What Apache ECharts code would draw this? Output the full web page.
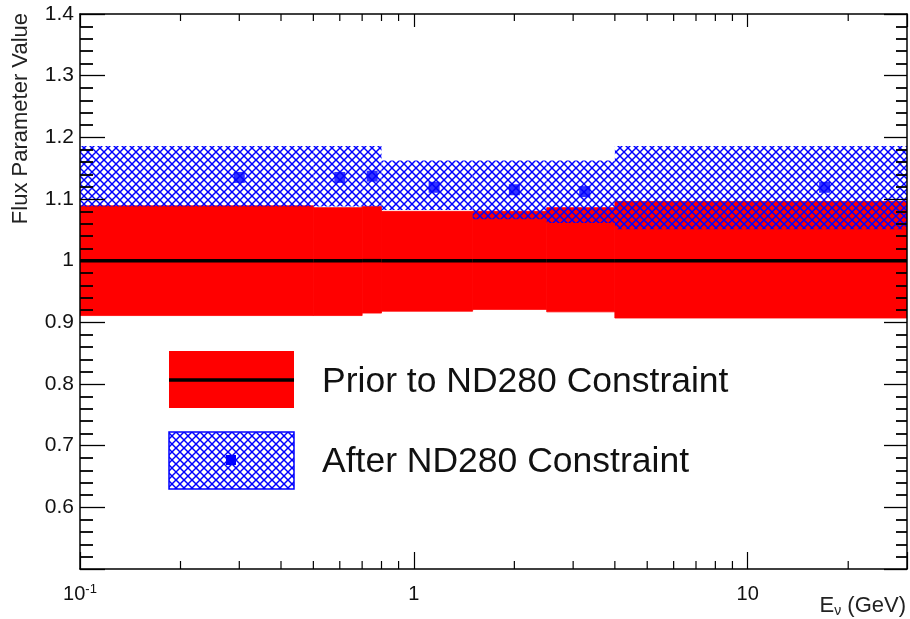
<!DOCTYPE html>
<html>
<head>
<meta charset="utf-8">
<title>Flux Parameter Value</title>
<script src="https://cdn.jsdelivr.net/npm/echarts@6/dist/echarts.min.js"></script>
<style>
  html, body { margin: 0; padding: 0; background: #fff; }
  #chart { width: 910px; height: 619px; }
</style>
</head>
<body>
<div id="chart"></div>
<script>
// Energy bin edges (GeV) of the flux parameters
const binEdges = [0.1, 0.5, 0.7, 0.8, 1.5, 2.5, 4.0, 30];
// Prior (before ND280 constraint): central value and 1-sigma band per bin
const priorCentral = [1, 1, 1, 1, 1, 1, 1];
const priorLow  = [0.911, 0.911, 0.915, 0.918, 0.921, 0.917, 0.907];
const priorHigh = [1.089, 1.086, 1.088, 1.080, 1.080, 1.086, 1.096];
// Posterior (after ND280 constraint): central value and 1-sigma band per bin
const postEnergy  = [0.3, 0.6, 0.75, 1.15, 2.0, 3.25, 17];
const postCentral = [1.135, 1.135, 1.137, 1.119, 1.115, 1.112, 1.119];
const postLow     = [1.088, 1.088, 1.088, 1.082, 1.067, 1.061, 1.051];
const postHigh    = [1.186, 1.186, 1.186, 1.1625, 1.1625, 1.1625, 1.186];
// Axis ticks
const xMajorLabels = { '-1': ['10', '-1'], '0': ['1', ''], '1': ['10', ''] };
const xMinorTicks = [0.2, 0.3, 0.4, 0.5, 0.6, 0.7, 0.8, 0.9, 2, 3, 4, 5, 6, 7, 8, 9, 20];

const FONT = '"Liberation Sans", Arial, sans-serif';
const RED = '#ff0000';
const BLUE = '#0000ff';

// Cross-hatch fill: two families of 45-degree lines, transparent in between
function makeHatch() {
  const s = 16, step = 8;
  const c = document.createElement('canvas');
  c.width = s; c.height = s;
  const g = c.getContext('2d');
  g.strokeStyle = BLUE;
  g.lineWidth = 1.5;
  for (let k = -3; k <= 5; k++) {
    const o = k * step;
    g.beginPath(); g.moveTo(o, 0); g.lineTo(o + s, s); g.stroke();
    g.beginPath(); g.moveTo(o, 0); g.lineTo(o - s, s); g.stroke();
  }
  return { image: c, repeat: 'repeat' };
}
const hatch = makeHatch();

function bandData(low, high) {
  return low.map((v, i) => [binEdges[i], binEdges[i + 1], v, high[i]]);
}

function bandRenderer(fill, stroke) {
  return function (params, api) {
    const p0 = api.coord([api.value(0), api.value(3)]);
    const p1 = api.coord([api.value(1), api.value(2)]);
    return {
      type: 'rect',
      shape: { x: p0[0], y: p0[1], width: p1[0] - p0[0], height: p1[1] - p0[1] },
      style: { fill: fill, stroke: stroke || null, lineWidth: stroke ? 0.8 : 0 }
    };
  };
}

const chart = echarts.init(document.getElementById('chart'), null, { renderer: 'canvas' });

const axisLineStyle = { color: '#000', width: 1.5 };

const option = {
  animation: false,
  backgroundColor: '#fff',
  grid: { left: 80, right: 3, top: 14, bottom: 50, containLabel: false },
  xAxis: [
    {
      type: 'log', logBase: 10, min: 0.1, max: 30, position: 'bottom', z: 10,
      axisLine: { show: true, lineStyle: axisLineStyle },
      axisTick: { show: true, inside: true, length: 17, lineStyle: { color: '#000', width: 1.2 } },
      splitLine: { show: false },
      axisLabel: {
        show: true, margin: 14, color: '#111', fontFamily: FONT, fontSize: 20,
        showMinLabel: true, showMaxLabel: true,
        formatter: function (v) {
          const e = Math.round(Math.log10(v));
          if (Math.abs(Math.log10(v) - e) > 1e-6) return '';
          const lab = xMajorLabels[String(e)];
          if (!lab) return '';
          return lab[1] ? '{n|' + lab[0] + '}{s|' + lab[1] + '}' : '{n|' + lab[0] + '}';
        },
        rich: {
          n: { fontFamily: FONT, fontSize: 20, color: '#111', lineHeight: 22 },
          s: { fontFamily: FONT, fontSize: 13, color: '#111', verticalAlign: 'top', lineHeight: 13 }
        }
      }
    },
    {
      type: 'log', logBase: 10, min: 0.1, max: 30, position: 'top', z: 10,
      axisLine: { show: true, lineStyle: axisLineStyle },
      axisTick: { show: true, inside: true, length: 13, lineStyle: { color: '#000', width: 1.2 } },
      splitLine: { show: false },
      axisLabel: { show: false }
    }
  ],
  yAxis: [
    {
      type: 'value', min: 0.5, max: 1.4, interval: 0.1, position: 'left', z: 10,
      axisLine: { show: true, lineStyle: axisLineStyle },
      axisTick: { show: true, inside: true, length: 25, lineStyle: { color: '#000', width: 1.3 } },
      minorTick: { show: true, splitNumber: 5, length: 13, lineStyle: { color: '#000', width: 1.8 } },
      splitLine: { show: false },
      axisLabel: {
        margin: 6, color: '#111', fontFamily: FONT, fontSize: 21,
        formatter: function (v) {
          const r = Math.round(v * 10) / 10;
          return r === 0.5 ? '' : String(r);
        }
      }
    },
    {
      type: 'value', min: 0.5, max: 1.4, interval: 0.1, position: 'right', z: 10,
      axisLine: { show: true, lineStyle: axisLineStyle },
      axisTick: { show: true, inside: true, length: 23, lineStyle: { color: '#000', width: 1.3 } },
      minorTick: { show: true, splitNumber: 5, length: 11, lineStyle: { color: '#000', width: 1.8 } },
      splitLine: { show: false },
      axisLabel: { show: false }
    }
  ],
  series: [
    {
      name: 'Prior to ND280 Constraint band',
      type: 'custom', xAxisIndex: 0, yAxisIndex: 0, z: 2, clip: true,
      encode: { x: [0, 1], y: [2, 3] },
      data: bandData(priorLow, priorHigh),
      renderItem: bandRenderer(RED, RED)
    },
    {
      name: 'Prior to ND280 Constraint',
      type: 'custom', xAxisIndex: 0, yAxisIndex: 0, z: 3, clip: true,
      encode: { x: [0, 1], y: 2 },
      data: priorCentral.map((v, i) => [binEdges[i], binEdges[i + 1], v]),
      renderItem: function (params, api) {
        const a = api.coord([api.value(0), api.value(2)]);
        const b = api.coord([api.value(1), api.value(2)]);
        return {
          type: 'line',
          shape: { x1: a[0], y1: a[1], x2: b[0], y2: b[1] },
          style: { stroke: '#000', lineWidth: 3.5 }
        };
      }
    },
    {
      name: 'After ND280 Constraint band',
      type: 'custom', xAxisIndex: 0, yAxisIndex: 0, z: 4, clip: true,
      encode: { x: [0, 1], y: [2, 3] },
      data: bandData(postLow, postHigh),
      renderItem: bandRenderer(hatch)
    },
    {
      name: 'After ND280 Constraint',
      type: 'scatter', xAxisIndex: 0, yAxisIndex: 0, z: 5,
      symbol: 'rect', symbolSize: 11,
      itemStyle: { color: BLUE },
      data: postEnergy.map((e, i) => [e, postCentral[i]])
    },
    {
      name: 'x minor ticks',
      type: 'custom', xAxisIndex: 0, yAxisIndex: 0, z: 11, clip: false,
      encode: { x: 0, y: 1 },
      data: xMinorTicks.map(v => [v, 1]),
      renderItem: function (params, api) {
        const x = api.coord([api.value(0), 1])[0];
        const cs = params.coordSys;
        const yb = cs.y + cs.height;
        return {
          type: 'group',
          children: [
            { type: 'line', shape: { x1: x, y1: yb, x2: x, y2: yb - 8 }, style: { stroke: '#000', lineWidth: 1.2 } },
            { type: 'line', shape: { x1: x, y1: cs.y, x2: x, y2: cs.y + 7 }, style: { stroke: '#000', lineWidth: 1.2 } }
          ]
        };
      }
    }
  ],
  graphic: [
    // axis titles
    {
      type: 'text', x: 21, y: 13, rotation: Math.PI / 2,
      style: {
        text: 'Flux Parameter Value', fill: '#222', font: '22px ' + FONT,
        textAlign: 'right', textVerticalAlign: 'middle'
      }
    },
    {
      type: 'text', x: 906, y: 606,
      style: {
        text: '{e|E}{v|ν}{e| (GeV)}', fill: '#222', textAlign: 'right', textVerticalAlign: 'middle',
        rich: {
          e: { fontFamily: FONT, fontSize: 22, fill: '#222', lineHeight: 24 },
          v: { fontFamily: FONT, fontSize: 14, fill: '#222', verticalAlign: 'bottom', lineHeight: 14 }
        }
      }
    },
    // legend: prior
    { type: 'rect', shape: { x: 169, y: 351, width: 125, height: 57 }, style: { fill: RED } },
    { type: 'line', shape: { x1: 169, y1: 380, x2: 294, y2: 380 }, style: { stroke: '#000', lineWidth: 3.5 } },
    {
      type: 'text', x: 322, y: 382,
      style: { text: 'Prior to ND280 Constraint', fill: '#111', font: '35.5px ' + FONT, textVerticalAlign: 'middle' }
    },
    // legend: after
    { type: 'rect', shape: { x: 169, y: 432, width: 125, height: 57 }, style: { fill: hatch, stroke: BLUE, lineWidth: 1.5 } },
    { type: 'rect', shape: { x: 226, y: 455, width: 10, height: 10 }, style: { fill: BLUE } },
    {
      type: 'text', x: 322, y: 462,
      style: { text: 'After ND280 Constraint', fill: '#111', font: '35.5px ' + FONT, textVerticalAlign: 'middle' }
    }
  ]
};

chart.setOption(option);
</script>
</body>
</html>
